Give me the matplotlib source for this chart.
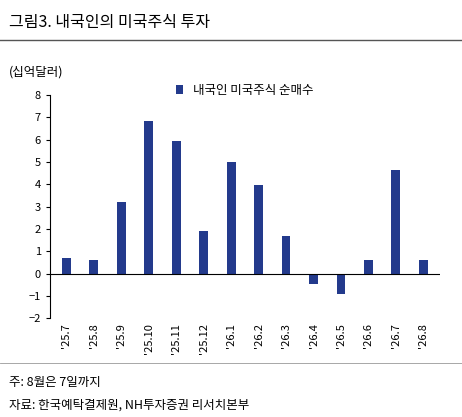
import matplotlib.pyplot as plt

plt.rcParams['font.family'] = ['Noto Sans CJK KR', 'DejaVu Sans']

months = ["'25.7", "'25.8", "'25.9", "'25.10", "'25.11", "'25.12", "'26.1",
          "'26.2", "'26.3", "'26.4", "'26.5", "'26.6", "'26.7", "'26.8"]
net_buy = [0.7, 0.6, 3.2, 6.85, 5.95, 1.9, 5.0, 3.95, 1.7, -0.45, -0.9, 0.6, 4.65, 0.6]

fig = plt.figure(figsize=(4.62, 4.17), dpi=100)
ax = fig.add_axes([0.108, 0.237, 0.844, 0.535])
x = range(len(months))
ax.bar(x, net_buy, width=0.32, color='#233a8c', label='내국인 미국주식 순매수')
ax.set_ylim(-2, 8)
ax.set_yticks(range(-2, 9))
ax.set_xlim(-0.6, len(months) - 0.4)
ax.set_xticks(list(x))
ax.set_xticklabels(months, rotation=90, fontsize=8)
ax.tick_params(axis='y', labelsize=8, length=3)
ax.tick_params(axis='x', length=0)
ax.axhline(0, color='black', lw=0.8)
for s in ['top', 'right', 'bottom']:
    ax.spines[s].set_visible(False)
ax.legend(loc='upper center', bbox_to_anchor=(0.5, 1.1), frameon=False,
          fontsize=9, handlelength=0.6, handleheight=0.8)
fig.text(0.02, 0.82, '(십억달러)', fontsize=9)

fig.text(0.02, 0.935, '그림3. 내국인의 미국주식 투자', fontsize=11.5)
fig.add_artist(plt.Line2D([0.0, 1.0], [0.905, 0.905], color='#555555', lw=1))
fig.add_artist(plt.Line2D([0.0, 1.0], [0.13, 0.13], color='#999999', lw=0.6))
fig.text(0.02, 0.075, '주: 8월은 7일까지', fontsize=9)
fig.text(0.02, 0.02, '자료: 한국예탁결제원, NH투자증권 리서치본부', fontsize=9)

fig.savefig('out.png', dpi=100)
